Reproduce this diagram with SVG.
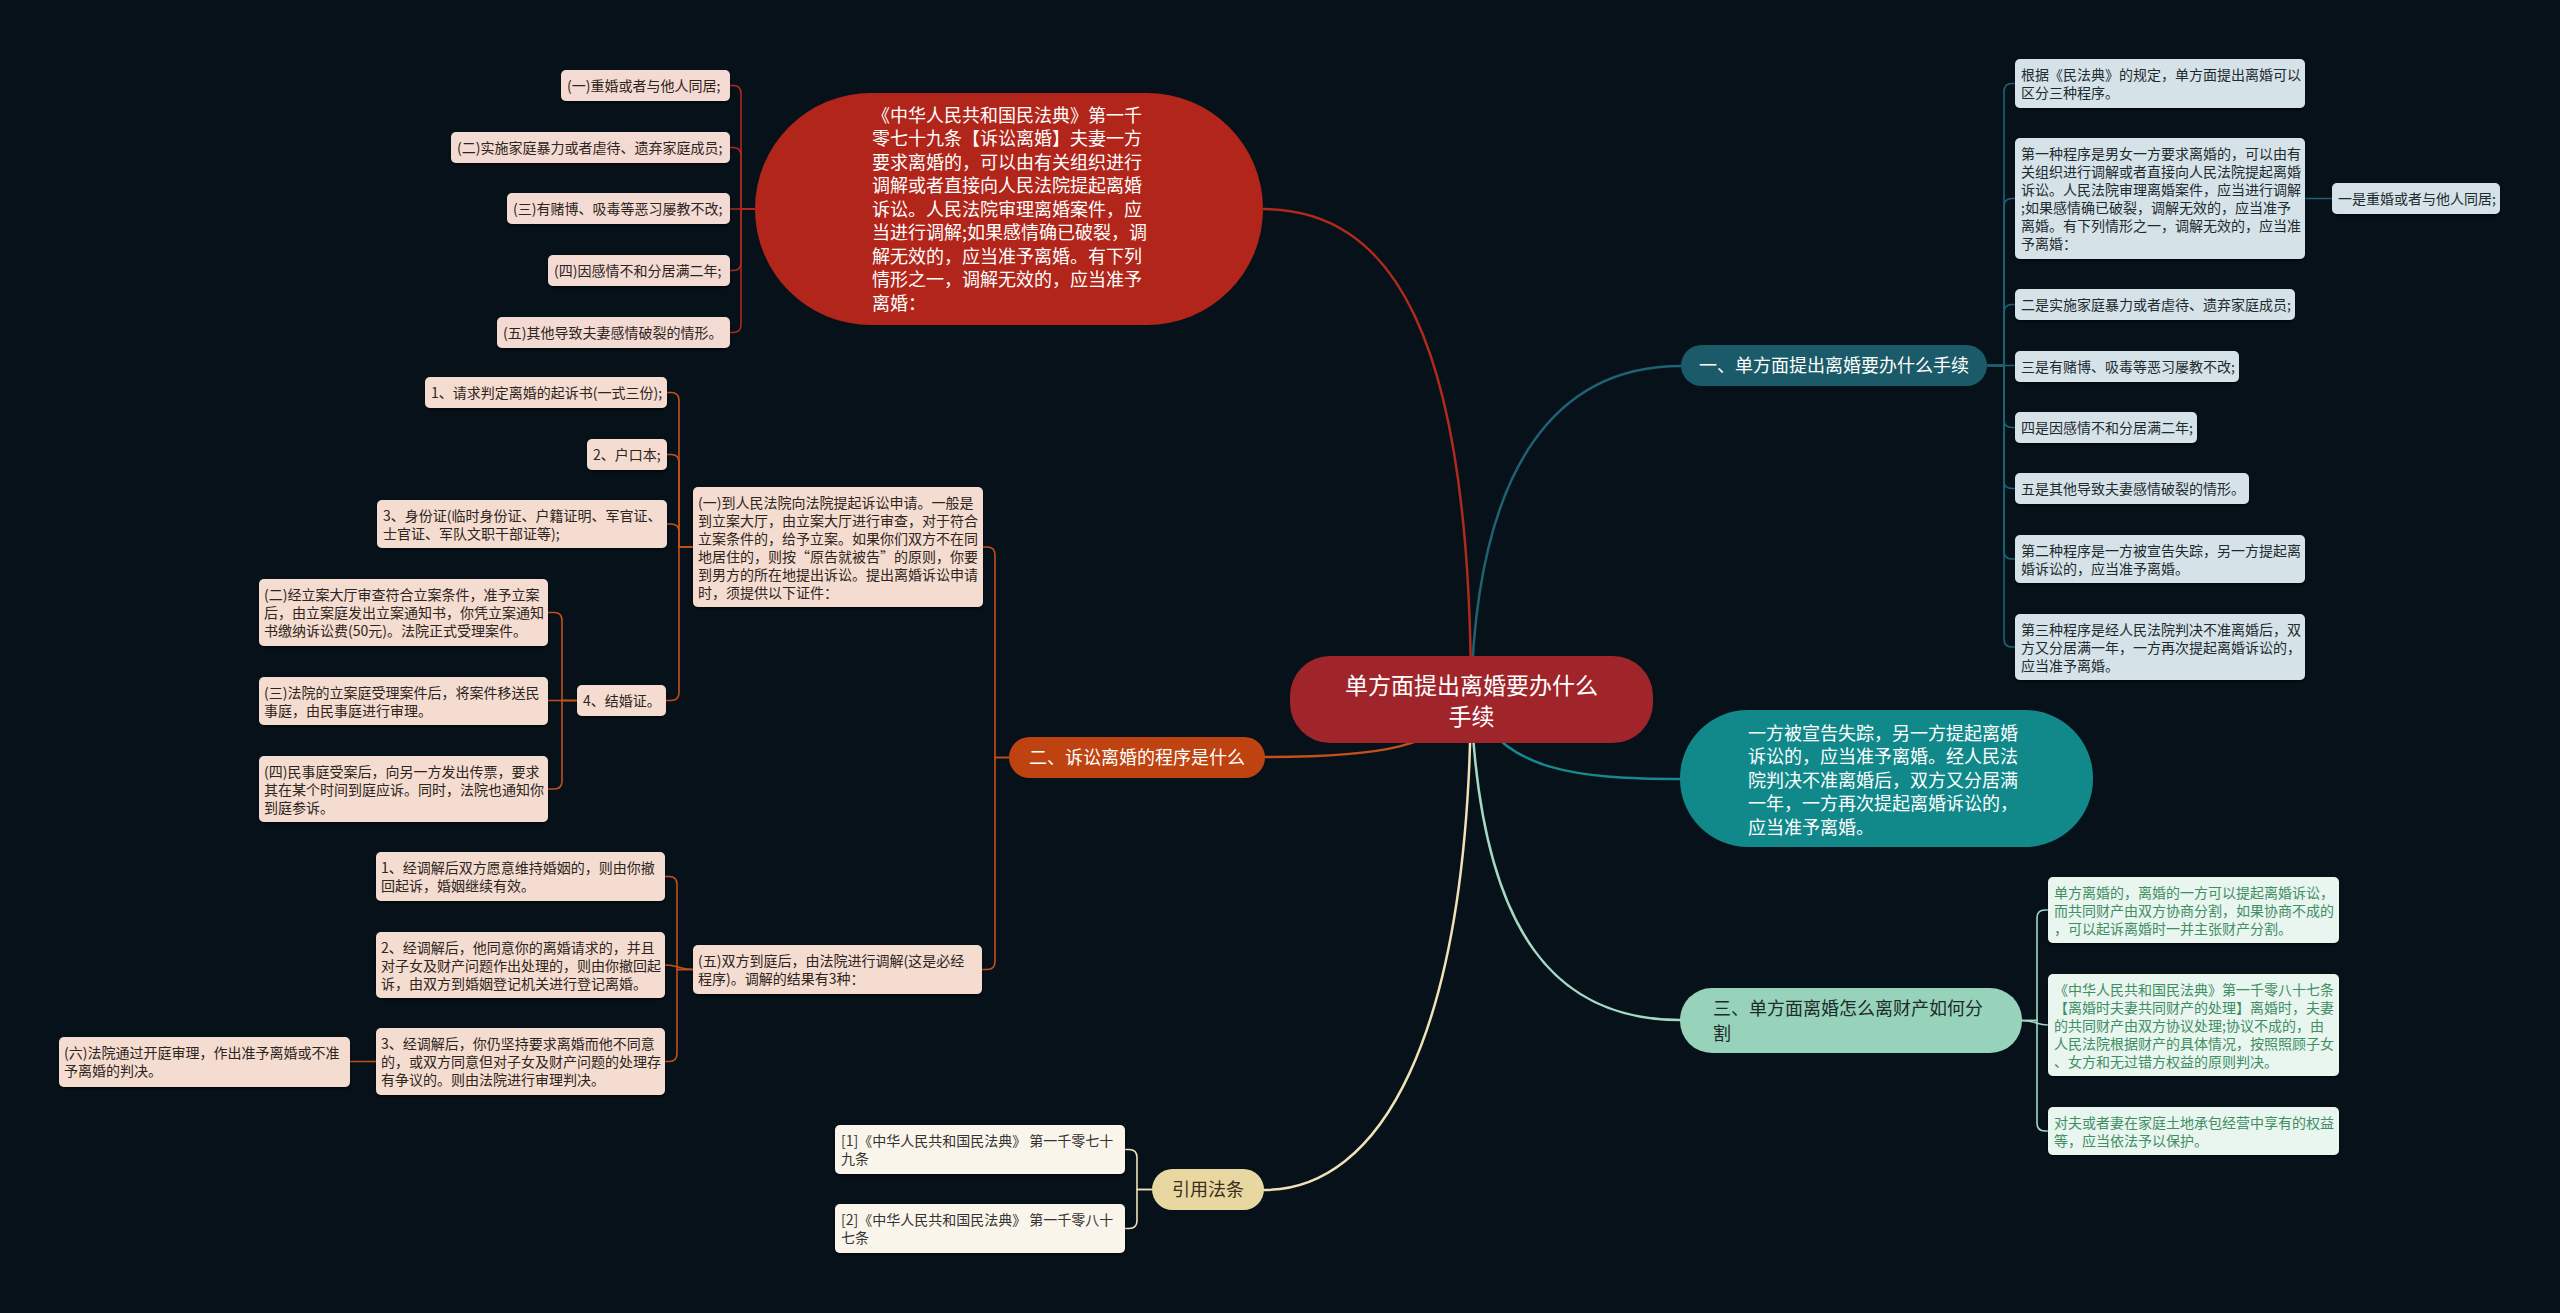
<svg xmlns="http://www.w3.org/2000/svg" width="2560" height="1313" viewBox="0 0 2560 1313">
<defs>
<filter id="sh" x="-5%" y="-10%" width="110%" height="130%"><feDropShadow dx="0" dy="2" stdDeviation="1.2" flood-color="#000" flood-opacity="0.55"/></filter>
</defs>
<style>
text{font-family:"Noto Sans CJK SC","Noto Sans",sans-serif;}
.t14{font-size:14px;}
.t18{font-size:18px;}
.bR{fill:#f3dad3;filter:url(#sh);}
.bO{fill:#f4dcd0;filter:url(#sh);}
.bB{fill:#d5e3e8;filter:url(#sh);}
.bG{fill:#e9f5ef;filter:url(#sh);}
.bY{fill:#faf5ea;filter:url(#sh);}
.dk{fill:#2e2420;}
.dkb{fill:#1f2a30;}
.gr{fill:#3f8e64;}
.wh{fill:#ffffff;}
.c{fill:none;stroke-linecap:round;}
.lR{stroke:#b0291d;stroke-width:1.6;}
.lO{stroke:#c4501a;stroke-width:1.6;}
.lB{stroke:#1f6273;stroke-width:1.6;}
.lG{stroke:#a5d9c3;stroke-width:1.6;}
.lY{stroke:#eee2b6;stroke-width:1.6;}
.m{stroke-width:2.5;}
</style>
<rect width="2560" height="1313" fill="#07111a"/>

<g id="connectors">
<path class="c lR m" d="M1471 699 C1471 330 1390 209 1263 209"/>
<path class="c lB m" d="M1471 699 C1476 460 1560 366 1681 366"/>
<path class="c m" stroke="#17898d" d="M1471 699 C1500 772 1580 779 1682 779"/>
<path class="c lG m" d="M1471 699 C1480 940 1560 1020 1680 1020"/>
<path class="c lY m" d="M1471 699 C1468 1040 1380 1190 1264 1190"/>
<path class="c lO m" d="M1471 699 C1440 748 1380 757 1265 757"/>

<path class="c lR" d="M755 209 H741 V93.5 Q741 85.5 733 85.5 H730"/>
<path class="c lR" d="M755 209 H741 V155.5 Q741 147.5 733 147.5 H730"/>
<path class="c lR" d="M755 209 H730"/>
<path class="c lR" d="M755 209 H741 V262.5 Q741 270.5 733 270.5 H730"/>
<path class="c lR" d="M755 209 H741 V324.5 Q741 332.5 733 332.5 H730"/>

<path class="c lO" d="M1009 757.5 H995 V555 Q995 547 987 547 H983"/>
<path class="c lO" d="M1009 757.5 H995 V961.5 Q995 969.5 987 969.5 H982"/>
<path class="c lO" d="M693 547 H679 V400.5 Q679 392.5 671 392.5 H667"/>
<path class="c lO" d="M693 547 H679 V462.5 Q679 454.5 671 454.5 H667"/>
<path class="c lO" d="M693 547 H679 V532 Q679 524 671 524 H667"/>
<path class="c lO" d="M693 547 H679 V692.5 Q679 700.5 671 700.5 H666"/>
<path class="c lO" d="M577 700.5 H562 V620.5 Q562 612.5 554 612.5 H548"/>
<path class="c lO" d="M577 700.5 H548"/>
<path class="c lO" d="M577 700.5 H562 V781 Q562 789 554 789 H548"/>
<path class="c lO" d="M693 969.5 H677 V884.5 Q677 876.5 669 876.5 H665"/>
<path class="c lO" d="M693 969.5 C680 969.5 678 965 665 965"/>
<path class="c lO" d="M693 969.5 H677 V1053.5 Q677 1061.5 669 1061.5 H665"/>
<path class="c lO" d="M376 1061.5 H350"/>

<path class="c lB" d="M1987 365.5 H2004 V91.5 Q2004 83.5 2012 83.5 H2015"/>
<path class="c lB" d="M1987 365.5 H2004 V206.5 Q2004 198.5 2012 198.5 H2015"/>
<path class="c lB" d="M1987 365.5 H2004 V312.5 Q2004 304.5 2012 304.5 H2015"/>
<path class="c lB" d="M1987 365.5 H2015"/>
<path class="c lB" d="M1987 365.5 H2004 V419.5 Q2004 427.5 2012 427.5 H2015"/>
<path class="c lB" d="M1987 365.5 H2004 V480.5 Q2004 488.5 2012 488.5 H2015"/>
<path class="c lB" d="M1987 365.5 H2004 V551 Q2004 559 2012 559 H2015"/>
<path class="c lB" d="M1987 365.5 H2004 V639 Q2004 647 2012 647 H2015"/>
<path class="c lB" d="M2305 198.5 H2332"/>

<path class="c lG" d="M2022 1020.5 H2037 V918 Q2037 910 2045 910 H2048"/>
<path class="c lG" d="M2022 1020.5 C2035 1020.5 2037 1025 2048 1025"/>
<path class="c lG" d="M2022 1020.5 H2037 V1123 Q2037 1131 2045 1131 H2048"/>

<path class="c lY" d="M1152 1189.5 H1137 V1157.5 Q1137 1149.5 1129 1149.5 H1125"/>
<path class="c lY" d="M1152 1189.5 H1137 V1220.5 Q1137 1228.5 1129 1228.5 H1125"/>
</g>

<g id="center">
<rect x="1290" y="656" width="363" height="87" rx="40" fill="#a0252b"/>
<text x="1471.5" y="694" font-size="23" text-anchor="middle" class="wh">单方面提出离婚要办什么</text>
<text x="1471.5" y="725" font-size="23" text-anchor="middle" class="wh">手续</text>
</g>

<g id="law1079">
<rect x="755" y="93" width="508" height="232" rx="116" fill="#b2251a"/>
<text class="t18 wh" x="872">
<tspan x="872" y="121.5">《中华人民共和国民法典》第一千</tspan>
<tspan x="872" y="145">零七十九条【诉讼离婚】夫妻一方</tspan>
<tspan x="872" y="168.5">要求离婚的，可以由有关组织进行</tspan>
<tspan x="872" y="192">调解或者直接向人民法院提起离婚</tspan>
<tspan x="872" y="215.5">诉讼。人民法院审理离婚案件，应</tspan>
<tspan x="872" y="239">当进行调解;如果感情确已破裂，调</tspan>
<tspan x="872" y="262.5">解无效的，应当准予离婚。有下列</tspan>
<tspan x="872" y="286">情形之一，调解无效的，应当准予</tspan>
<tspan x="872" y="309.5">离婚：</tspan>
</text>
</g>
<g id="r1"><rect class="bR" x="561" y="70" width="169" height="31" rx="5"/><text class="t14 dk" x="567" y="90.5">(一)重婚或者与他人同居;</text></g>
<g id="r2"><rect class="bR" x="451" y="132" width="279" height="31" rx="5"/><text class="t14 dk" x="457" y="152.5">(二)实施家庭暴力或者虐待、遗弃家庭成员;</text></g>
<g id="r3"><rect class="bR" x="507" y="193" width="223" height="31" rx="5"/><text class="t14 dk" x="513" y="213.5">(三)有赌博、吸毒等恶习屡教不改;</text></g>
<g id="r4"><rect class="bR" x="548" y="255" width="182" height="31" rx="5"/><text class="t14 dk" x="554" y="275.5">(四)因感情不和分居满二年;</text></g>
<g id="r5"><rect class="bR" x="497" y="317" width="233" height="31" rx="5"/><text class="t14 dk" x="503" y="337.5">(五)其他导致夫妻感情破裂的情形。</text></g>

<g id="branch2">
<rect x="1009" y="737" width="256" height="41" rx="20.5" fill="#bf4310"/>
<text x="1137" y="764" class="t18 wh" text-anchor="middle">二、诉讼离婚的程序是什么</text>
</g>
<g id="a0"><rect class="bO" x="693" y="487" width="290" height="120" rx="5"/>
<text class="t14 dk"><tspan x="698" y="507.5">(一)到人民法院向法院提起诉讼申请。一般是</tspan><tspan x="698" y="525.5">到立案大厅，由立案大厅进行审查，对于符合</tspan><tspan x="698" y="543.5">立案条件的，给予立案。如果你们双方不在同</tspan><tspan x="698" y="561.5">地居住的，则按“原告就被告”的原则，你要</tspan><tspan x="698" y="579.5">到男方的所在地提出诉讼。提出离婚诉讼申请</tspan><tspan x="698" y="597.5">时，须提供以下证件：</tspan></text></g>
<g id="a1"><rect class="bO" x="425" y="377" width="242" height="31" rx="5"/><text class="t14 dk" x="431" y="397.5">1、请求判定离婚的起诉书(一式三份);</text></g>
<g id="a2"><rect class="bO" x="587" y="439" width="80" height="31" rx="5"/><text class="t14 dk" x="593" y="459.5">2、户口本;</text></g>
<g id="a3"><rect class="bO" x="377" y="500" width="290" height="48" rx="5"/><text class="t14 dk"><tspan x="383" y="520.5">3、身份证(临时身份证、户籍证明、军官证、</tspan><tspan x="383" y="538.5">士官证、军队文职干部证等);</tspan></text></g>
<g id="a4"><rect class="bO" x="577" y="685" width="89" height="31" rx="5"/><text class="t14 dk" x="583" y="705.5">4、结婚证。</text></g>
<g id="b2"><rect class="bO" x="259" y="579" width="289" height="67" rx="5"/><text class="t14 dk"><tspan x="264" y="599.5">(二)经立案大厅审查符合立案条件，准予立案</tspan><tspan x="264" y="617.5">后，由立案庭发出立案通知书，你凭立案通知</tspan><tspan x="264" y="635.5">书缴纳诉讼费(50元)。法院正式受理案件。</tspan></text></g>
<g id="b3"><rect class="bO" x="259" y="677" width="289" height="48" rx="5"/><text class="t14 dk"><tspan x="264" y="697.5">(三)法院的立案庭受理案件后，将案件移送民</tspan><tspan x="264" y="715.5">事庭，由民事庭进行审理。</tspan></text></g>
<g id="b4"><rect class="bO" x="259" y="756" width="289" height="66" rx="5"/><text class="t14 dk"><tspan x="264" y="776.5">(四)民事庭受案后，向另一方发出传票，要求</tspan><tspan x="264" y="794.5">其在某个时间到庭应诉。同时，法院也通知你</tspan><tspan x="264" y="812.5">到庭参诉。</tspan></text></g>
<g id="c0"><rect class="bO" x="693" y="945" width="289" height="49" rx="5"/><text class="t14 dk"><tspan x="698" y="965.5">(五)双方到庭后，由法院进行调解(这是必经</tspan><tspan x="698" y="983.5">程序)。调解的结果有3种：</tspan></text></g>
<g id="c1"><rect class="bO" x="376" y="852" width="289" height="49" rx="5"/><text class="t14 dk"><tspan x="381" y="872.5">1、经调解后双方愿意维持婚姻的，则由你撤</tspan><tspan x="381" y="890.5">回起诉，婚姻继续有效。</tspan></text></g>
<g id="c2"><rect class="bO" x="376" y="932" width="289" height="66" rx="5"/><text class="t14 dk"><tspan x="381" y="952.5">2、经调解后，他同意你的离婚请求的，并且</tspan><tspan x="381" y="970.5">对子女及财产问题作出处理的，则由你撤回起</tspan><tspan x="381" y="988.5">诉，由双方到婚姻登记机关进行登记离婚。</tspan></text></g>
<g id="c3"><rect class="bO" x="376" y="1028" width="289" height="67" rx="5"/><text class="t14 dk"><tspan x="381" y="1048.5">3、经调解后，你仍坚持要求离婚而他不同意</tspan><tspan x="381" y="1066.5">的，或双方同意但对子女及财产问题的处理存</tspan><tspan x="381" y="1084.5">有争议的。则由法院进行审理判决。</tspan></text></g>
<g id="c6"><rect class="bO" x="59" y="1037" width="291" height="50" rx="5"/><text class="t14 dk"><tspan x="64" y="1057.5">(六)法院通过开庭审理，作出准予离婚或不准</tspan><tspan x="64" y="1075.5">予离婚的判决。</tspan></text></g>

<g id="branch1">
<rect x="1681" y="345" width="306" height="41" rx="20.5" fill="#1b5b69"/>
<text x="1834" y="372" class="t18 wh" text-anchor="middle">一、单方面提出离婚要办什么手续</text>
</g>
<g id="d1"><rect class="bB" x="2015" y="59" width="290" height="49" rx="5"/><text class="t14 dkb"><tspan x="2021" y="79.5">根据《民法典》的规定，单方面提出离婚可以</tspan><tspan x="2021" y="97.5">区分三种程序。</tspan></text></g>
<g id="d2"><rect class="bB" x="2015" y="138" width="290" height="121" rx="5"/><text class="t14 dkb"><tspan x="2021" y="158.5">第一种程序是男女一方要求离婚的，可以由有</tspan><tspan x="2021" y="176.5">关组织进行调解或者直接向人民法院提起离婚</tspan><tspan x="2021" y="194.5">诉讼。人民法院审理离婚案件，应当进行调解</tspan><tspan x="2021" y="212.5">;如果感情确已破裂，调解无效的，应当准予</tspan><tspan x="2021" y="230.5">离婚。有下列情形之一，调解无效的，应当准</tspan><tspan x="2021" y="248.5">予离婚：</tspan></text></g>
<g id="d3"><rect class="bB" x="2332" y="183" width="168" height="31" rx="5"/><text class="t14 dkb" x="2338" y="203.5">一是重婚或者与他人同居;</text></g>
<g id="d4"><rect class="bB" x="2015" y="289" width="280" height="31" rx="5"/><text class="t14 dkb" x="2021" y="309.5">二是实施家庭暴力或者虐待、遗弃家庭成员;</text></g>
<g id="d5"><rect class="bB" x="2015" y="351" width="224" height="31" rx="5"/><text class="t14 dkb" x="2021" y="371.5">三是有赌博、吸毒等恶习屡教不改;</text></g>
<g id="d6"><rect class="bB" x="2015" y="412" width="182" height="31" rx="5"/><text class="t14 dkb" x="2021" y="432.5">四是因感情不和分居满二年;</text></g>
<g id="d7"><rect class="bB" x="2015" y="473" width="234" height="31" rx="5"/><text class="t14 dkb" x="2021" y="493.5">五是其他导致夫妻感情破裂的情形。</text></g>
<g id="d8"><rect class="bB" x="2015" y="535" width="290" height="48" rx="5"/><text class="t14 dkb"><tspan x="2021" y="555.5">第二种程序是一方被宣告失踪，另一方提起离</tspan><tspan x="2021" y="573.5">婚诉讼的，应当准予离婚。</tspan></text></g>
<g id="d9"><rect class="bB" x="2015" y="614" width="290" height="66" rx="5"/><text class="t14 dkb"><tspan x="2021" y="634.5">第三种程序是经人民法院判决不准离婚后，双</tspan><tspan x="2021" y="652.5">方又分居满一年，一方再次提起离婚诉讼的，</tspan><tspan x="2021" y="670.5">应当准予离婚。</tspan></text></g>

<g id="teal">
<rect x="1680" y="710" width="413" height="137" rx="68" fill="#11898b"/>
<text class="t18 wh"><tspan x="1748" y="739.5">一方被宣告失踪，另一方提起离婚</tspan><tspan x="1748" y="763">诉讼的，应当准予离婚。经人民法</tspan><tspan x="1748" y="786.5">院判决不准离婚后，双方又分居满</tspan><tspan x="1748" y="810">一年，一方再次提起离婚诉讼的，</tspan><tspan x="1748" y="833.5">应当准予离婚。</tspan></text>
</g>

<g id="branch3">
<rect x="1680" y="988" width="342" height="65" rx="32" fill="#97d3bb"/>
<text class="t18" fill="#1e2b29"><tspan x="1713" y="1014.5">三、单方面离婚怎么离财产如何分</tspan><tspan x="1713" y="1039.5">割</tspan></text>
</g>
<g id="e1"><rect class="bG" x="2048" y="877" width="291" height="66" rx="5"/><text class="t14 gr"><tspan x="2054" y="897.5">单方离婚的，离婚的一方可以提起离婚诉讼，</tspan><tspan x="2054" y="915.5">而共同财产由双方协商分割，如果协商不成的</tspan><tspan x="2054" y="933.5">，可以起诉离婚时一并主张财产分割。</tspan></text></g>
<g id="e2"><rect class="bG" x="2048" y="974" width="291" height="102" rx="5"/><text class="t14 gr"><tspan x="2054" y="994.5">《中华人民共和国民法典》第一千零八十七条</tspan><tspan x="2054" y="1012.5">【离婚时夫妻共同财产的处理】离婚时，夫妻</tspan><tspan x="2054" y="1030.5">的共同财产由双方协议处理;协议不成的，由</tspan><tspan x="2054" y="1048.5">人民法院根据财产的具体情况，按照照顾子女</tspan><tspan x="2054" y="1066.5">、女方和无过错方权益的原则判决。</tspan></text></g>
<g id="e3"><rect class="bG" x="2048" y="1107" width="291" height="48" rx="5"/><text class="t14 gr"><tspan x="2054" y="1127.5">对夫或者妻在家庭土地承包经营中享有的权益</tspan><tspan x="2054" y="1145.5">等，应当依法予以保护。</tspan></text></g>

<g id="refs">
<rect x="1152" y="1169" width="112" height="41" rx="20.5" fill="#e9d7a2"/>
<text x="1208" y="1196" class="t18" fill="#3a2f1c" text-anchor="middle">引用法条</text>
</g>
<g id="f1"><rect class="bY" x="835" y="1125" width="290" height="49" rx="5"/><text class="t14" fill="#333"><tspan x="841" y="1145.5">[1]《中华人民共和国民法典》 第一千零七十</tspan><tspan x="841" y="1163.5">九条</tspan></text></g>
<g id="f2"><rect class="bY" x="835" y="1204" width="290" height="49" rx="5"/><text class="t14" fill="#333"><tspan x="841" y="1224.5">[2]《中华人民共和国民法典》 第一千零八十</tspan><tspan x="841" y="1242.5">七条</tspan></text></g>
</svg>
